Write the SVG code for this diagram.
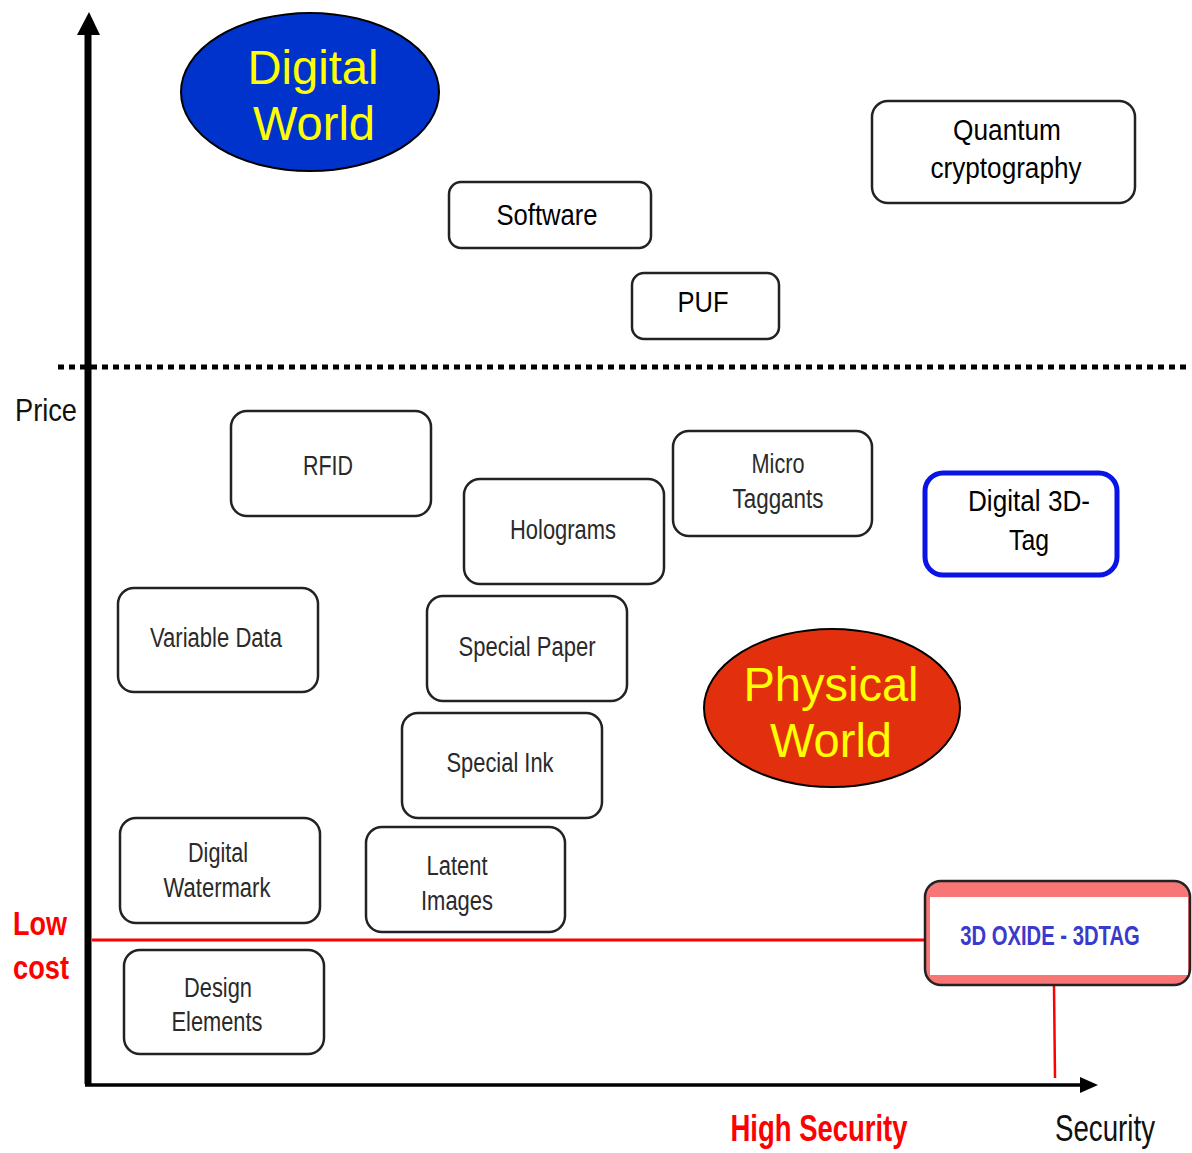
<svg xmlns="http://www.w3.org/2000/svg" width="1192" height="1153" viewBox="0 0 1192 1153">
<defs>
<style>
.box{fill:#fff;stroke:#222;stroke-width:2.5}
.t{font-family:"Liberation Sans",Arial,sans-serif;text-anchor:middle;dominant-baseline:central}
.lo{font-size:27px;fill:#2a2a2a}
.hi{font-size:30px;fill:#000}
.world{font-family:"Liberation Sans",Arial,sans-serif;font-size:48px;fill:#ffff00;text-anchor:middle;dominant-baseline:central}
.red{fill:#ff0000;font-weight:bold}
</style>
</defs>
<rect width="1192" height="1153" fill="#fff"/>

<g id="connectors">
<line x1="58" y1="367" x2="1190" y2="367" stroke="#000" stroke-width="5" stroke-dasharray="6,5"/>
<line x1="92" y1="940" x2="925" y2="940" stroke="#ff0000" stroke-width="3"/>
<line x1="1054" y1="986" x2="1055" y2="1078" stroke="#ff0000" stroke-width="2.5"/>
<line x1="85" y1="1085" x2="1084" y2="1085" stroke="#000" stroke-width="3.5"/>
<path d="M1080,1077 L1098,1085 L1080,1093 z" fill="#000"/>
<line x1="88" y1="1084" x2="88" y2="32" stroke="#000" stroke-width="7"/>
<path d="M77,35 L89,12 L100,35 z" fill="#000"/>
</g>

<g id="digital-world">
<ellipse cx="310" cy="92" rx="129" ry="79" fill="#0033cc" stroke="#000" stroke-width="2"/>
<text class="world" x="313" y="67" textLength="131" lengthAdjust="spacingAndGlyphs">Digital</text>
<text class="world" x="314" y="123" textLength="122" lengthAdjust="spacingAndGlyphs">World</text>
</g>

<g id="physical-world">
<ellipse cx="832" cy="708" rx="128" ry="79" fill="#e2300e" stroke="#000" stroke-width="2"/>
<text class="world" x="831" y="684" textLength="175" lengthAdjust="spacingAndGlyphs">Physical</text>
<text class="world" x="831" y="740" textLength="122" lengthAdjust="spacingAndGlyphs">World</text>
</g>

<g id="quantum">
<rect class="box" x="872" y="101" width="263" height="102" rx="16"/>
<text class="t hi" x="1007" y="129" textLength="108" lengthAdjust="spacingAndGlyphs">Quantum</text>
<text class="t hi" x="1006" y="167" textLength="151" lengthAdjust="spacingAndGlyphs">cryptography</text>
</g>
<g id="software">
<rect class="box" x="449" y="182" width="202" height="66" rx="12"/>
<text class="t hi" x="547" y="214" textLength="101" lengthAdjust="spacingAndGlyphs">Software</text>
</g>
<g id="puf">
<rect class="box" x="632" y="273" width="147" height="66" rx="12"/>
<text class="t hi" x="703" y="301" textLength="51" lengthAdjust="spacingAndGlyphs">PUF</text>
</g>

<text id="price" class="t" x="46" y="410" style="font-size:32px;fill:#111" textLength="62" lengthAdjust="spacingAndGlyphs">Price</text>

<g id="rfid">
<rect class="box" x="231" y="411" width="200" height="105" rx="16"/>
<text class="t lo" x="328" y="466" textLength="50" lengthAdjust="spacingAndGlyphs">RFID</text>
</g>
<g id="holograms">
<rect class="box" x="464" y="479" width="200" height="105" rx="16"/>
<text class="t lo" x="563" y="530" textLength="106" lengthAdjust="spacingAndGlyphs">Holograms</text>
</g>
<g id="micro-taggants">
<rect class="box" x="673" y="431" width="199" height="105" rx="16"/>
<text class="t lo" x="778" y="464" textLength="53" lengthAdjust="spacingAndGlyphs">Micro</text>
<text class="t lo" x="778" y="499" textLength="91" lengthAdjust="spacingAndGlyphs">Taggants</text>
</g>
<g id="digital-3d-tag">
<rect x="925" y="473" width="192" height="102" rx="18" fill="#fff" stroke="#0a14e6" stroke-width="5"/>
<text class="t hi" x="1029" y="500" textLength="122" lengthAdjust="spacingAndGlyphs">Digital 3D-</text>
<text class="t hi" x="1029" y="539" textLength="40" lengthAdjust="spacingAndGlyphs">Tag</text>
</g>
<g id="variable-data">
<rect class="box" x="118" y="588" width="200" height="104" rx="16"/>
<text class="t lo" x="216" y="638" textLength="132" lengthAdjust="spacingAndGlyphs">Variable Data</text>
</g>
<g id="special-paper">
<rect class="box" x="427" y="596" width="200" height="105" rx="16"/>
<text class="t lo" x="527" y="647" textLength="137" lengthAdjust="spacingAndGlyphs">Special Paper</text>
</g>
<g id="special-ink">
<rect class="box" x="402" y="713" width="200" height="105" rx="16"/>
<text class="t lo" x="500" y="763" textLength="107" lengthAdjust="spacingAndGlyphs">Special Ink</text>
</g>
<g id="digital-watermark">
<rect class="box" x="120" y="818" width="200" height="105" rx="16"/>
<text class="t lo" x="218" y="853" textLength="60" lengthAdjust="spacingAndGlyphs">Digital</text>
<text class="t lo" x="217" y="888" textLength="107" lengthAdjust="spacingAndGlyphs">Watermark</text>
</g>
<g id="latent-images">
<rect class="box" x="366" y="827" width="199" height="105" rx="16"/>
<text class="t lo" x="457" y="866" textLength="61" lengthAdjust="spacingAndGlyphs">Latent</text>
<text class="t lo" x="457" y="901" textLength="72" lengthAdjust="spacingAndGlyphs">Images</text>
</g>
<g id="design-elements">
<rect class="box" x="124" y="950" width="200" height="104" rx="16"/>
<text class="t lo" x="218" y="988" textLength="68" lengthAdjust="spacingAndGlyphs">Design</text>
<text class="t lo" x="217" y="1022" textLength="91" lengthAdjust="spacingAndGlyphs">Elements</text>
</g>

<g id="oxide-3dtag">
<rect x="925" y="881" width="265" height="104" rx="16" fill="#f87676" stroke="#222" stroke-width="2.5"/>
<rect x="930" y="897" width="258" height="78" fill="#fff"/>
<text class="t" transform="translate(1050,935) scale(0.75,1)" x="0" y="0" style="font-size:27px;font-weight:bold;fill:#3a3acc">3D OXIDE - 3DTAG</text>
</g>

<g id="low-cost">
<text class="t red" x="40" y="923" style="font-size:34px" textLength="54" lengthAdjust="spacingAndGlyphs">Low</text>
<text class="t red" x="41" y="967" style="font-size:34px" textLength="56" lengthAdjust="spacingAndGlyphs">cost</text>
</g>
<text id="high-security" class="t red" x="819" y="1128" style="font-size:36px" textLength="177" lengthAdjust="spacingAndGlyphs">High Security</text>
<text id="security" class="t" x="1105" y="1128" style="font-size:36px;fill:#111" textLength="100" lengthAdjust="spacingAndGlyphs">Security</text>
</svg>
